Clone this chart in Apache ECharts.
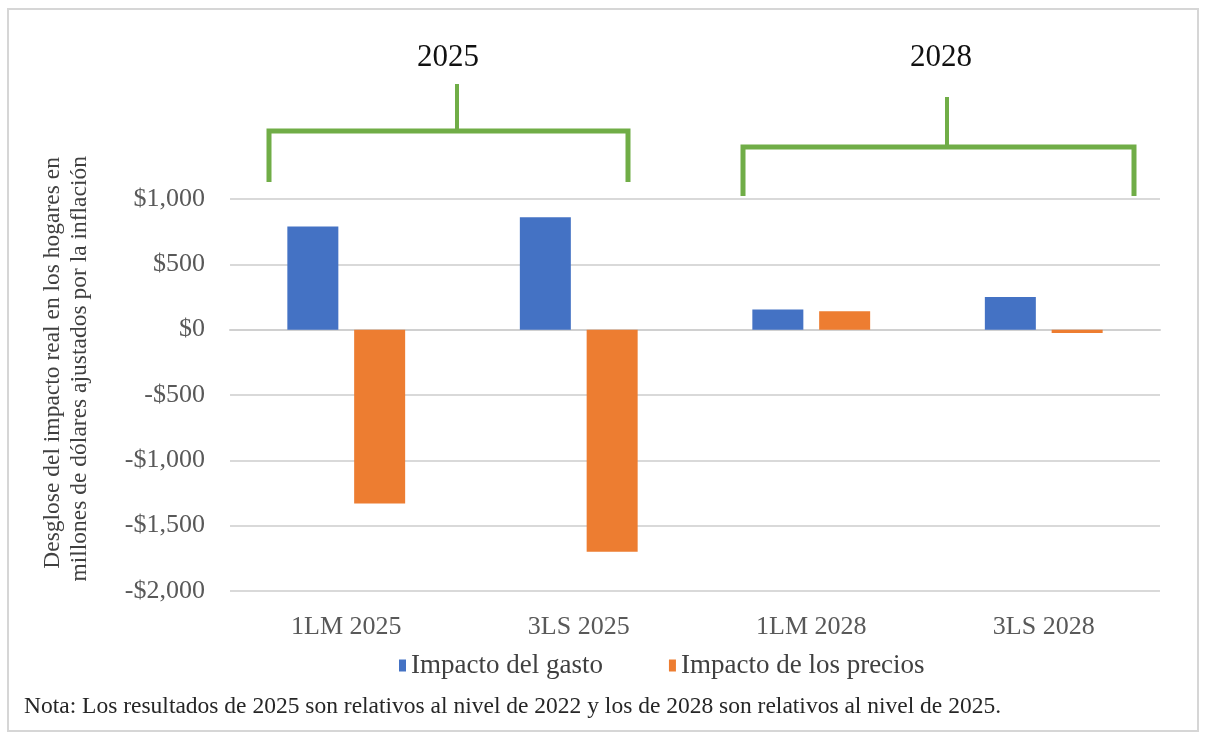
<!DOCTYPE html>
<html>
<head>
<meta charset="utf-8">
<script src="https://cdn.jsdelivr.net/npm/echarts@6/dist/echarts.min.js"></script>
<style>
  html, body { margin: 0; padding: 0; background: #fff; }
  #chart { width: 1206px; height: 738px; }
</style>
</head>
<body>
<div id="chart"></div>
<script>
// datos (millones de dolares)
var categorias = ["1LM 2025", "3LS 2025", "1LM 2028", "3LS 2028"];
var impactoGasto = [790, 860, 155, 250];
var impactoPrecios = [-1330, -1700, 140, -25];
var nombresSeries = ["Impacto del gasto", "Impacto de los precios"];
var grupos = ["2025", "2028"];
var tituloEje = ["Desglose del impacto real en los hogares en", "millones de dólares ajustados por la inflación"];

var serif = "Liberation Serif";
var chart = echarts.init(document.getElementById("chart"));

var option = {
  animation: false,
  backgroundColor: "#fff",
  color: ["#4472C4", "#ED7D31"],
  grid: { left: 230, right: 46, top: 199, bottom: 147 },
  legend: {
    top: 647,
    left: 394,
    itemWidth: 7,
    itemHeight: 12,
    itemGap: 66,
    icon: "rect",
    textStyle: { fontFamily: serif, fontSize: 27, color: "#404040" },
    data: nombresSeries,
  },
  xAxis: {
    type: "category",
    data: categorias,
    axisLine: { lineStyle: { color: "#d0d0d0", width: 2 } },
    axisTick: { show: false },
    axisLabel: { fontFamily: serif, fontSize: 26, color: "#595959", margin: 23 },
  },
  yAxis: {
    type: "value",
    min: -2000,
    max: 1000,
    interval: 500,
    axisLine: { show: false },
    axisTick: { show: false },
    splitLine: { lineStyle: { color: "#d9d9d9", width: 2 } },
    axisLabel: {
      fontFamily: serif,
      fontSize: 26,
      color: "#595959",
      margin: 25,
      formatter: function (v) {
        var s = "$" + Math.abs(v).toLocaleString("en-US");
        return v < 0 ? "-" + s : s;
      },
    },
  },
  series: [
    {
      name: nombresSeries[0],
      type: "bar",
      data: impactoGasto,
      barWidth: 51,
      barGap: "31%",
    },
    {
      name: nombresSeries[1],
      type: "bar",
      data: impactoPrecios,
      barWidth: 51,
    },
  ],
  graphic: [
    {
      type: "rect",
      shape: { x: 8, y: 9, width: 1190, height: 722 },
      style: { fill: "none", stroke: "#d6d6d6", lineWidth: 2 },
      silent: true,
    },
    // titulo del eje y (dos lineas, alineadas arriba)
    {
      type: "text",
      x: 53,
      y: 157,
      rotation: Math.PI / 2,
      style: {
        text: tituloEje[0],
        font: "23.5px " + serif,
        fill: "#404040",
        textAlign: "right",
        textVerticalAlign: "middle",
      },
    },
    {
      type: "text",
      x: 80,
      y: 156,
      rotation: Math.PI / 2,
      style: {
        text: tituloEje[1],
        font: "23.5px " + serif,
        fill: "#404040",
        textAlign: "right",
        textVerticalAlign: "middle",
      },
    },
    {
      type: "text",
      left: 24,
      top: 695,
      style: {
        text: "Nota: Los resultados de 2025 son relativos al nivel de 2022 y los de 2028 son relativos al nivel de 2025.",
        font: "23.5px " + serif,
        fill: "#262626",
      },
    },
    // llaves de los grupos
    {
      type: "polyline",
      shape: { points: [[269, 182], [269, 131], [628, 131], [628, 182]] },
      style: { stroke: "#70AD47", lineWidth: 5, fill: "none" },
    },
    {
      type: "line",
      shape: { x1: 457, y1: 84, x2: 457, y2: 131 },
      style: { stroke: "#70AD47", lineWidth: 4 },
    },
    {
      type: "polyline",
      shape: { points: [[743, 196], [743, 147], [1134, 147], [1134, 196]] },
      style: { stroke: "#70AD47", lineWidth: 5, fill: "none" },
    },
    {
      type: "line",
      shape: { x1: 947, y1: 97, x2: 947, y2: 147 },
      style: { stroke: "#70AD47", lineWidth: 4 },
    },
    {
      type: "text",
      x: 448,
      y: 58,
      style: {
        text: grupos[0],
        font: "31px " + serif,
        fill: "#111",
        textAlign: "center",
        textVerticalAlign: "middle",
      },
    },
    {
      type: "text",
      x: 941,
      y: 58,
      style: {
        text: grupos[1],
        font: "31px " + serif,
        fill: "#111",
        textAlign: "center",
        textVerticalAlign: "middle",
      },
    },
  ],
};
chart.setOption(option, true);
</script>
</body>
</html>
